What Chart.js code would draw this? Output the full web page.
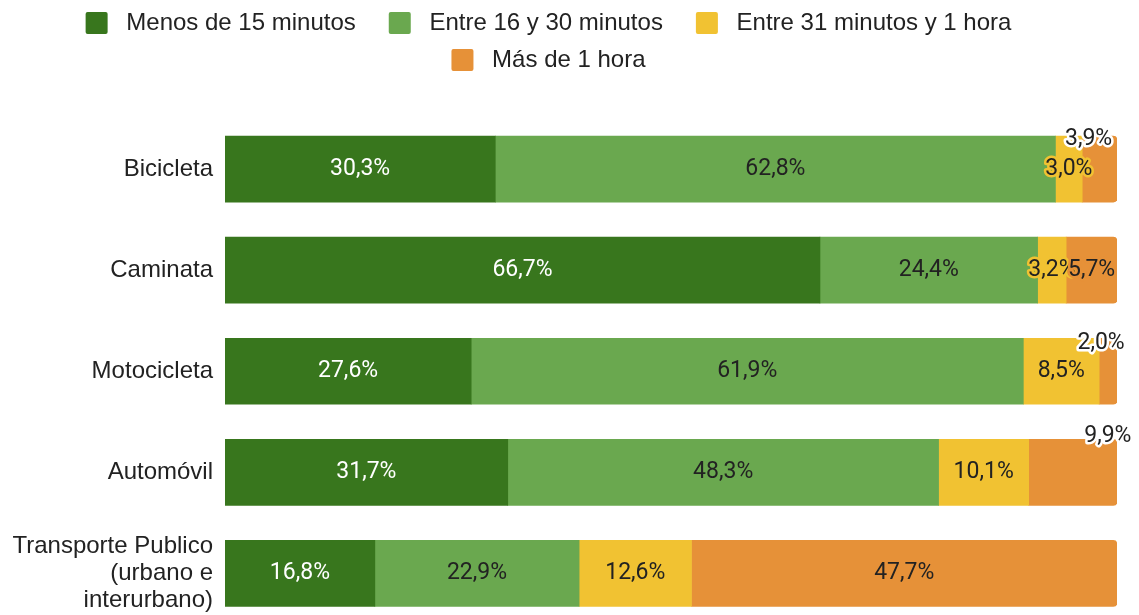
<!DOCTYPE html>
<html>
<head>
<meta charset="utf-8">
<script src="https://cdn.jsdelivr.net/npm/chart.js@4.4.1/dist/chart.umd.min.js"></script>
<style>
  html, body { margin: 0; padding: 0; background: #fff; overflow: hidden; }
  #wrap { width: 1139px; height: 624px; }
</style>
</head>
<body>
<div id="wrap"><canvas id="tiempoChart" width="1139" height="624"></canvas></div>
<script>
const categorias = ['Bicicleta', 'Caminata', 'Motocicleta', 'Automóvil', ['Transporte Publico', '(urbano e', 'interurbano)']];
const series = ['Menos de 15 minutos', 'Entre 16 y 30 minutos', 'Entre 31 minutos y 1 hora', 'Más de 1 hora'];
const menos15 = [30.3, 66.7, 27.6, 31.7, 16.8];
const entre16y30 = [62.8, 24.4, 61.9, 48.3, 22.9];
const entre31y60 = [3.0, 3.2, 8.5, 10.1, 12.6];
const masDe1Hora = [3.9, 5.7, 2.0, 9.9, 47.7];

const colores = ['#38761d', '#6aa84f', '#f1c232', '#e69138'];

// labels that sit above the bar end, with a white halo
const etiquetasFuera = [
  { ds: 3, row: 0, dx: -11, dy: -30 },
  { ds: 3, row: 2, dx: -7, dy: -28 },
  { ds: 3, row: 3, dx: 35, dy: -36 }
];

const fmt = (v) => v.toFixed(1).replace('.', ',') + '%';

const valueLabels = {
  id: 'valueLabels',
  afterDatasetsDraw(chart) {
    const ctx = chart.ctx;
    ctx.save();
    ctx.font = '23px Roboto';
    ctx.textAlign = 'center';
    ctx.textBaseline = 'middle';
    ctx.lineJoin = 'round';
    chart.data.datasets.forEach((ds, i) => {
      const meta = chart.getDatasetMeta(i);
      meta.data.forEach((bar, j) => {
        const txt = fmt(ds.data[j]);
        let x = (bar.x + bar.base) / 2;
        let y = bar.y;
        const w = ctx.measureText(txt).width;
        let halo = null;
        const fuera = etiquetasFuera.find(e => e.ds === i && e.row === j);
        if (fuera) {
          x += fuera.dx;
          y += fuera.dy;
          halo = '#ffffff';
        } else if (w + 8 > Math.abs(bar.x - bar.base)) {
          halo = colores[i];
        }
        if (halo) {
          ctx.strokeStyle = halo;
          ctx.lineWidth = 5;
          ctx.strokeText(txt, x, y);
        }
        ctx.fillStyle = (i === 0 && !fuera) ? '#ffffff' : '#222222';
        ctx.fillText(txt, x, y);
      });
    });
    ctx.restore();
  }
};

const datos = [menos15, entre16y30, entre31y60, masDe1Hora];

new Chart(document.getElementById('tiempoChart'), {
  type: 'bar',
  data: {
    labels: categorias,
    datasets: series.map((s, i) => ({
      label: s,
      data: datos[i],
      backgroundColor: colores[i],
      borderWidth: 0,
      borderRadius: i === 3 ? 4 : 0,
      barThickness: 66
    }))
  },
  options: {
    indexAxis: 'y',
    responsive: false,
    animation: false,
    layout: { padding: { top: -2, right: 22, bottom: 0, left: 0 } },
    scales: {
      x: { stacked: true, min: 0, max: 100, display: false },
      y: {
        stacked: true,
        grid: { display: false, drawTicks: false },
        border: { display: false },
        ticks: {
          color: '#222222',
          padding: 12,
          font: { family: '"Liberation Sans", Arial, sans-serif', size: 24, lineHeight: 1.125 }
        },
        afterFit(scale) {
          scale.width = 225;
          scale.paddingTop = 0;
          scale.paddingBottom = 0;
        }
      }
    },
    plugins: {
      tooltip: { enabled: false },
      title: { display: true, text: '', weight: 500, font: { size: 10, lineHeight: 1 }, padding: { top: 26.5, bottom: 0 } },
      legend: {
        position: 'top',
        labels: {
          boxWidth: 22,
          boxHeight: 22,
          padding: 13,
          useBorderRadius: true,
          borderRadius: 2,
          color: '#222222',
          font: { family: '"Liberation Sans", Arial, sans-serif', size: 24 },
          generateLabels: (chart) => Chart.defaults.plugins.legend.labels.generateLabels(chart)
            .map(item => Object.assign(item, { text: ' ' + item.text + '   ' }))
        }
      }
    }
  },
  plugins: [valueLabels]
});
</script>
</body>
</html>
